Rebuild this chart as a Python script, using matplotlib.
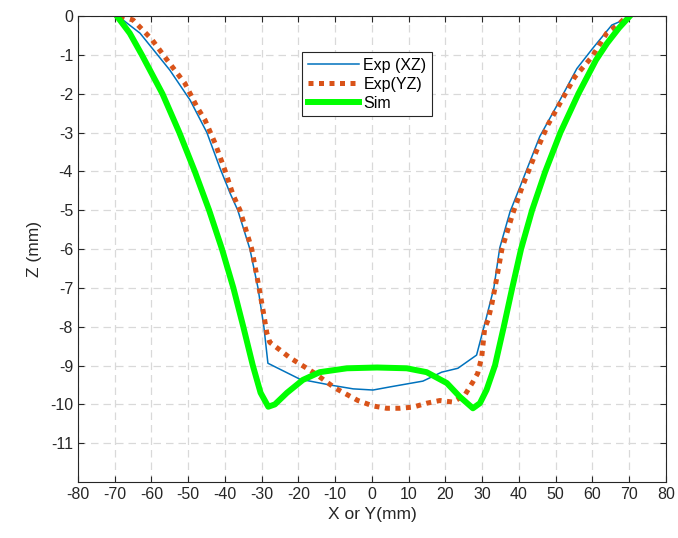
import matplotlib
matplotlib.use("Agg")
import matplotlib.pyplot as plt

plt.rcParams['font.family'] = ['Liberation Sans', 'DejaVu Sans']
plt.rcParams['axes.unicode_minus'] = False

# Exp (XZ)
xz_x = [-69.1, -63.1, -55.0, -49.5, -44.9, -41.4, -38.6, -36.5, -33.2, -31.0, -29.4, -28.3,
        -19.6, -11.4, -5.1, 0.3, 4.9, 13.9, 19.0, 23.4, 28.5, 31.2, 33.2, 34.8, 37.6, 40.3,
        45.7, 51.2, 55.8, 60.1, 65.3, 70.2]
xz_z = [0.0, -0.44, -1.39, -2.16, -3.0, -3.9, -4.56, -5.0, -6.0, -7.0, -8.0, -8.94,
        -9.35, -9.5, -9.6, -9.63, -9.55, -9.4, -9.17, -9.07, -8.73, -7.75, -7.0, -5.97, -5.04, -4.4,
        -3.1, -2.16, -1.35, -0.83, -0.23, -0.03]

# Exp (YZ)
yz_x = [-68.6, -65.0, -59.9, -55.5, -50.9, -47.6, -45.4, -42.7, -40.0, -37.8, -35.9, -32.7,
        -30.7, -29.4, -28.6, -27.8, -25.0, -22.3, -16.0, -10.0, -3.8, 0.3, 4.0, 7.6, 11.2,
        14.9, 18.5, 22.0, 25.3, 27.5, 28.8, 29.9, 30.7, 31.6, 32.6, 33.5, 35.4, 36.2, 38.4,
        40.8, 44.9, 47.9, 51.7, 55.2, 59.9, 63.9, 67.5, 69.4]
yz_z = [0.0, -0.1, -0.6, -1.16, -1.73, -2.34, -2.68, -3.27, -3.97, -4.6, -5.0, -6.0,
        -7.0, -7.7, -8.16, -8.4, -8.6, -8.8, -9.17, -9.58, -9.9, -10.04, -10.1, -10.1, -10.07,
        -9.97, -9.9, -9.94, -9.76, -9.42, -9.2, -8.78, -8.04, -7.83, -7.44, -7.0, -6.0, -5.75, -5.07,
        -4.43, -3.45, -2.8, -2.16, -1.57, -1.05, -0.44, -0.18, 0.0]

# Sim
sim_x = [-69.4, -65.9, -62.6, -59.8, -57.0, -52.4, -48.2, -44.3, -40.8, -37.7, -35.0,
         -32.4, -30.3, -28.2, -26.4, -23.1, -18.8, -14.2, -6.8, 1.4, 9.5, 14.9, 20.4, 23.9,
         27.5, 29.4, 31.2, 33.5, 35.9, 38.2, 40.6, 43.6, 47.2, 51.3, 56.2, 61.0, 64.0, 67.3, 70.2]
sim_z = [0.0, -0.44, -1.0, -1.5, -2.0, -3.0, -4.0, -5.0, -6.0, -7.0, -8.0,
         -9.0, -9.7, -10.06, -10.0, -9.7, -9.37, -9.17, -9.07, -9.05, -9.07, -9.17, -9.45, -9.8,
         -10.1, -9.97, -9.63, -9.0, -8.0, -7.0, -6.0, -5.0, -4.0, -3.0, -2.0, -1.13, -0.7, -0.3, 0.0]

x_ticks = list(range(-80, 81, 10))
y_ticks = list(range(-11, 1))

fig = plt.figure(figsize=(6.78, 5.38), dpi=100)
ax = fig.add_axes([0.115, 0.104, 0.867, 0.866])

ax.plot(xz_x, xz_z, color='#0072BD', lw=1.1, label='Exp (XZ)')
ax.plot(yz_x, yz_z, color='#D95319', lw=3.6, linestyle=(0, (1, 1.1)),
        dash_capstyle='butt', label='Exp(YZ)')
ax.plot(sim_x, sim_z, color='#00FF00', lw=4.3, label='Sim', solid_joinstyle='round')

ax.set_xlim(-80, 80)
ax.set_ylim(-12, 0)
ax.set_xticks(x_ticks)
ax.set_yticks(y_ticks)
ax.grid(True, linestyle=(0, (6, 4)), color='#d9d9d9', lw=0.9)
ax.set_axisbelow(True)
ax.tick_params(direction='in', top=True, right=True, labelsize=11.5, length=4,
               color='#262626', labelcolor='#262626')
for s in ax.spines.values():
    s.set_color('#262626')
    s.set_linewidth(0.8)

ax.set_xlabel('X or Y(mm)', fontsize=12.5, color='#262626', labelpad=4)
ax.set_ylabel('Z (mm)', fontsize=12.5, color='#262626', labelpad=6)

leg = ax.legend(loc='upper left', bbox_to_anchor=(0.381, 0.923), borderaxespad=0,
                fontsize=11.5, fancybox=False, edgecolor='#262626', framealpha=1,
                handlelength=3.2, handletextpad=0.3, labelspacing=0.25, borderpad=0.35)
leg.get_frame().set_linewidth(0.8)

fig.savefig('out.png', dpi=100)
